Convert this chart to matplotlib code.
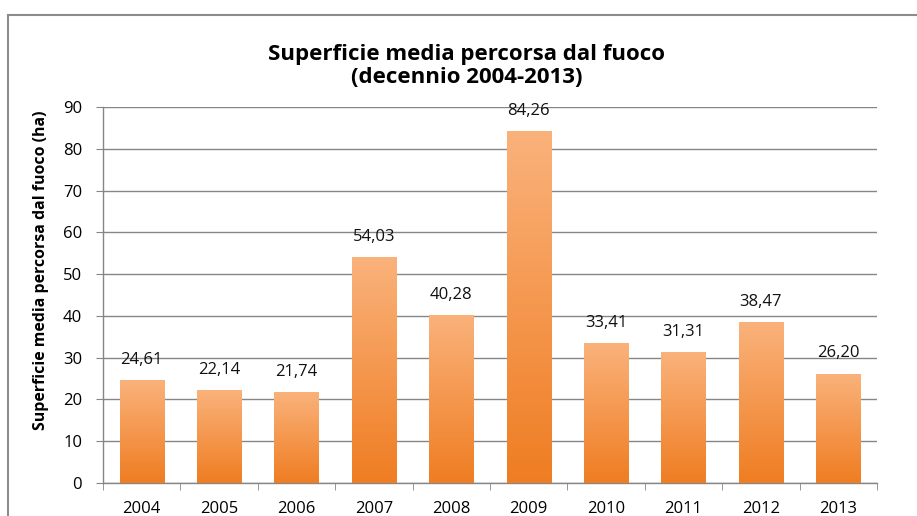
import matplotlib.pyplot as plt
import numpy as np
from matplotlib.patches import Rectangle
from matplotlib.colors import LinearSegmentedColormap

years = ["2004", "2005", "2006", "2007", "2008", "2009", "2010", "2011", "2012", "2013"]
superficie = [24.61, 22.14, 21.74, 54.03, 40.28, 84.26, 33.41, 31.31, 38.47, 26.20]
y_ticks = [0, 10, 20, 30, 40, 50, 60, 70, 80, 90]

plt.rcParams['font.family'] = ['Open Sans', 'DejaVu Sans']

fig = plt.figure(figsize=(9.17, 5.16), dpi=100)
ax = fig.add_axes([0.1123, 0.064, 0.8441, 0.7286])

# frame around the chart (runs off the right and bottom edges)
fig.patches.append(Rectangle((8 / 917, -0.1), 1.2, 1 - 15 / 516 + 0.1,
                             transform=fig.transFigure, fill=False,
                             edgecolor='#8c8c8c', linewidth=1.5))

cmap = LinearSegmentedColormap.from_list('arancio', ['#ef7d22', '#fab27b'])
grad = np.linspace(0, 1, 256).reshape(-1, 1)
x = np.arange(len(years))
width = 0.57
bars = ax.bar(x, superficie, width=width, color='none', zorder=3)
for b, v in zip(bars, superficie):
    im = ax.imshow(grad, cmap=cmap, aspect='auto', origin='lower',
                   extent=(b.get_x(), b.get_x() + width, 0, v), zorder=3)
    im.set_clip_path(b)
    ax.text(b.get_x() + width / 2, v + 2.9, f"{v:.2f}".replace('.', ','),
            ha='center', va='bottom', fontsize=12, color='#111111')

ax.set_xlim(-0.5, len(years) - 0.5)
ax.set_ylim(0, 90)
ax.set_yticks(y_ticks)
ax.set_xticks(x)
ax.set_xticklabels(years)
ax.set_xticks(np.arange(-0.5, len(years)), minor=True)
ax.tick_params(axis='x', which='major', length=0, labelsize=12, pad=13)
ax.tick_params(axis='x', which='minor', length=5, color='#868686', direction='out')
ax.tick_params(axis='y', length=5, color='#868686', labelsize=12, pad=10)
ax.grid(axis='y', color='#868686', linewidth=1, zorder=0)
ax.set_axisbelow(True)
for s in ['top', 'right']:
    ax.spines[s].set_visible(False)
for s in ['left', 'bottom']:
    ax.spines[s].set_color('#868686')
    ax.spines[s].set_linewidth(1)

ax.set_ylabel("Superficie media percorsa dal fuoco (ha)", fontsize=11.4,
              fontweight='bold')
ax.yaxis.set_label_coords(-0.070, 0.566)
fig.text(0.509, 0.872, "Superficie media percorsa dal fuoco\n(decennio 2004-2013)",
         ha='center', va='center', fontsize=16, fontweight='bold', linespacing=1.1)

fig.savefig("out.png", dpi=100)
